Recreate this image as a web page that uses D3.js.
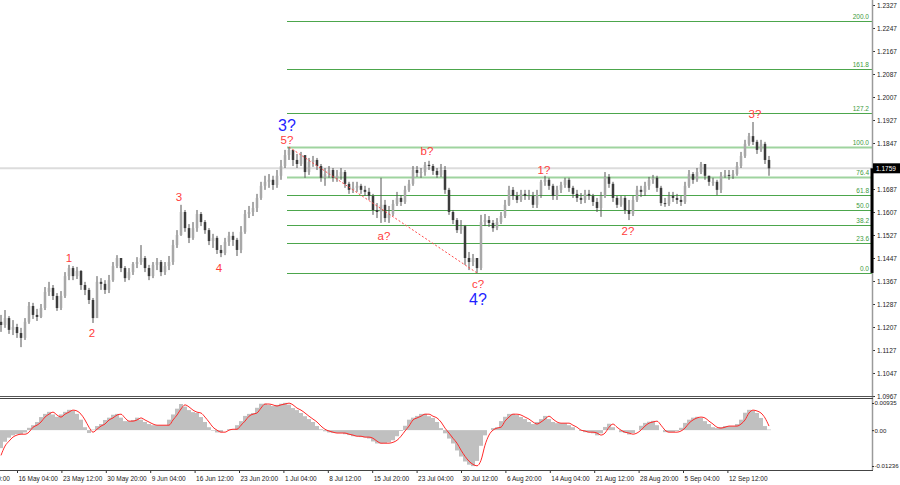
<!DOCTYPE html>
<html><head><meta charset="utf-8">
<script src="https://cdn.jsdelivr.net/npm/d3@7"></script>
<style>body{margin:0;background:#fff}svg{display:block}</style>
</head><body>
<script>
// ---------- DATA ----------
const closes = [1.1214,1.1238,1.1197,1.1207,1.1186,1.1169,1.1225,1.1280,1.1249,1.1242,
1.1273,1.1329,1.1343,1.1315,1.1273,1.1315,1.1384,1.1412,1.1384,1.1402,
1.1353,1.1336,1.1301,1.1238,1.1364,1.1357,1.1336,1.1370,1.1419,1.1447,
1.1412,1.1377,1.1398,1.1426,1.1433,1.1447,1.1412,1.1384,1.1423,1.1433,
1.1398,1.1419,1.1433,1.1492,1.1527,1.1607,1.1551,1.1517,1.1551,1.1600,
1.1572,1.1544,1.1506,1.1517,1.1475,1.1464,1.1503,1.1524,1.1510,1.1475,
1.1538,1.1600,1.1607,1.1621,1.1656,1.1698,1.1712,1.1719,1.1701,1.1733,
1.1767,1.1805,1.1823,1.1788,1.1774,1.1805,1.1746,1.1781,1.1788,1.1767,
1.1726,1.1739,1.1753,1.1726,1.1733,1.1746,1.1705,1.1684,1.1691,1.1698,
1.1684,1.1677,1.1663,1.1614,1.1607,1.1632,1.1586,1.1600,1.1635,1.1656,
1.1642,1.1684,1.1705,1.1753,1.1743,1.1746,1.1771,1.1767,1.1750,1.1736,
1.1753,1.1684,1.1607,1.1579,1.1544,1.1558,1.1447,1.1433,1.1447,1.1412,
1.1572,1.1579,1.1569,1.1551,1.1572,1.1593,1.1632,1.1684,1.1663,1.1649,
1.1670,1.1663,1.1663,1.1632,1.1666,1.1712,1.1719,1.1698,1.1663,1.1684,
1.1701,1.1719,1.1691,1.1670,1.1656,1.1649,1.1670,1.1663,1.1642,1.1621,
1.1663,1.1729,1.1705,1.1656,1.1632,1.1656,1.1614,1.1600,1.1649,1.1684,
1.1677,1.1698,1.1719,1.1726,1.1691,1.1638,1.1635,1.1663,1.1656,1.1649,
1.1642,1.1698,1.1739,1.1719,1.1746,1.1774,1.1733,1.1712,1.1712,1.1684,
1.1733,1.1736,1.1733,1.1739,1.1767,1.1802,1.1844,1.1871,1.1851,1.1823,
1.1844,1.1788,1.1759];
const highs = [1.1249,1.1266,1.1245,1.1231,1.1218,1.1204,1.1238,1.1294,1.1291,1.1270,
1.1287,1.1346,1.1364,1.1353,1.1325,1.1332,1.1398,1.1423,1.1419,1.1416,
1.1405,1.1364,1.1343,1.1308,1.1384,1.1377,1.1370,1.1388,1.1433,1.1457,
1.1447,1.1419,1.1412,1.1433,1.1450,1.1492,1.1454,1.1423,1.1433,1.1447,
1.1440,1.1433,1.1454,1.1510,1.1544,1.1632,1.1614,1.1565,1.1572,1.1614,
1.1607,1.1579,1.1551,1.1531,1.1524,1.1492,1.1517,1.1538,1.1538,1.1517,
1.1558,1.1614,1.1628,1.1642,1.1670,1.1712,1.1733,1.1739,1.1733,1.1753,
1.1788,1.1823,1.1833,1.1816,1.1809,1.1816,1.1802,1.1795,1.1802,1.1795,
1.1774,1.1760,1.1767,1.1760,1.1753,1.1760,1.1753,1.1712,1.1712,1.1712,
1.1705,1.1698,1.1691,1.1670,1.1638,1.1726,1.1649,1.1628,1.1649,1.1677,
1.1666,1.1698,1.1719,1.1767,1.1767,1.1760,1.1781,1.1785,1.1774,1.1760,
1.1774,1.1767,1.1691,1.1614,1.1586,1.1579,1.1562,1.1468,1.1461,1.1447,
1.1597,1.1600,1.1593,1.1579,1.1586,1.1607,1.1649,1.1698,1.1694,1.1677,
1.1684,1.1684,1.1684,1.1677,1.1684,1.1719,1.1733,1.1726,1.1705,1.1698,
1.1712,1.1726,1.1726,1.1698,1.1684,1.1673,1.1684,1.1684,1.1670,1.1656,
1.1677,1.1746,1.1739,1.1712,1.1663,1.1663,1.1663,1.1649,1.1663,1.1698,
1.1698,1.1712,1.1729,1.1736,1.1733,1.1698,1.1656,1.1677,1.1677,1.1670,
1.1663,1.1712,1.1753,1.1746,1.1760,1.1781,1.1774,1.1733,1.1726,1.1719,
1.1746,1.1753,1.1753,1.1753,1.1781,1.1816,1.1858,1.1882,1.1920,1.1858,
1.1858,1.1851,1.1802];
const lows = [1.1190,1.1204,1.1183,1.1179,1.1169,1.1137,1.1162,1.1218,1.1235,1.1228,
1.1238,1.1266,1.1315,1.1301,1.1263,1.1266,1.1308,1.1370,1.1370,1.1374,
1.1336,1.1318,1.1287,1.1221,1.1245,1.1336,1.1322,1.1325,1.1364,1.1412,
1.1398,1.1364,1.1370,1.1388,1.1412,1.1423,1.1398,1.1370,1.1377,1.1405,
1.1384,1.1388,1.1405,1.1423,1.1482,1.1524,1.1538,1.1499,1.1510,1.1538,
1.1558,1.1531,1.1492,1.1482,1.1461,1.1450,1.1457,1.1489,1.1489,1.1454,
1.1464,1.1531,1.1586,1.1593,1.1607,1.1649,1.1684,1.1691,1.1684,1.1691,
1.1719,1.1760,1.1788,1.1767,1.1760,1.1767,1.1726,1.1736,1.1764,1.1753,
1.1712,1.1698,1.1726,1.1712,1.1712,1.1719,1.1691,1.1670,1.1673,1.1677,
1.1670,1.1663,1.1649,1.1597,1.1586,1.1569,1.1572,1.1569,1.1593,1.1628,
1.1628,1.1635,1.1677,1.1698,1.1729,1.1726,1.1733,1.1753,1.1736,1.1726,
1.1729,1.1670,1.1597,1.1565,1.1534,1.1531,1.1423,1.1405,1.1419,1.1395,
1.1405,1.1558,1.1555,1.1538,1.1544,1.1565,1.1586,1.1628,1.1649,1.1638,
1.1642,1.1649,1.1649,1.1621,1.1621,1.1656,1.1698,1.1684,1.1649,1.1649,
1.1673,1.1691,1.1677,1.1656,1.1642,1.1635,1.1638,1.1649,1.1628,1.1607,
1.1590,1.1656,1.1691,1.1642,1.1621,1.1625,1.1600,1.1579,1.1593,1.1642,
1.1659,1.1663,1.1684,1.1705,1.1677,1.1628,1.1625,1.1628,1.1642,1.1635,
1.1628,1.1635,1.1691,1.1705,1.1712,1.1739,1.1719,1.1698,1.1698,1.1666,
1.1673,1.1726,1.1719,1.1722,1.1733,1.1760,1.1795,1.1837,1.1840,1.1809,
1.1816,1.1774,1.1733];
const firstOpen = 1.1225;

const signalLine = [-0.0087,-0.0055,-0.0038,-0.0024,-0.0017,-0.0014,-0.0014,-0.0007,0.0010,0.0017,
0.0028,0.0045,0.0055,0.0062,0.0052,0.0045,0.0055,0.0062,0.0069,0.0066,
0.0055,0.0035,0.0010,-0.0007,0.0003,0.0014,0.0021,0.0035,0.0042,0.0052,
0.0055,0.0042,0.0031,0.0031,0.0035,0.0042,0.0035,0.0028,0.0021,0.0017,
0.0017,0.0017,0.0017,0.0035,0.0052,0.0073,0.0087,0.0080,0.0069,0.0062,
0.0059,0.0045,0.0028,0.0010,0,-0.0007,-0.0007,0,0.0003,0.0003,
0.0017,0.0031,0.0048,0.0055,0.0059,0.0076,0.0090,0.0090,0.0087,0.0083,
0.0087,0.0090,0.0093,0.0087,0.0076,0.0069,0.0059,0.0048,0.0038,0.0028,
0.0014,0.0003,-0.0003,-0.0007,-0.0010,-0.0010,-0.0010,-0.0014,-0.0017,-0.0021,
-0.0021,-0.0024,-0.0024,-0.0028,-0.0038,-0.0045,-0.0045,-0.0045,-0.0042,-0.0035,
-0.0021,-0.0003,0.0014,0.0035,0.0042,0.0048,0.0055,0.0055,0.0048,0.0042,
0.0028,0.0007,-0.0010,-0.0028,-0.0045,-0.0069,-0.0090,-0.0107,-0.0118,-0.0123,
-0.0104,-0.0052,-0.0017,0,0.0007,0.0010,0.0031,0.0045,0.0055,0.0055,
0.0052,0.0045,0.0038,0.0028,0.0021,0.0028,0.0038,0.0048,0.0038,0.0028,
0.0024,0.0024,0.0024,0.0017,0.0010,0,-0.0003,-0.0007,-0.0007,-0.0010,
-0.0017,-0.0010,0.0010,0.0021,0.0010,0,-0.0007,-0.0010,-0.0014,-0.0010,
0,0.0014,0.0024,0.0028,0.0031,0.0017,0,-0.0007,-0.0007,-0.0007,
-0.0003,0.0007,0.0024,0.0035,0.0042,0.0045,0.0042,0.0031,0.0021,0.0010,
0.0007,0.0010,0.0014,0.0014,0.0014,0.0021,0.0035,0.0059,0.0069,0.0066,
0.0059,0.0042,0.0014];
const histogram = [-0.0062,-0.0040,-0.0026,-0.0018,-0.0014,-0.0014,-0.0008,0.0008,0.0017,0.0028,
0.0045,0.0056,0.0063,0.0054,0.0046,0.0054,0.0063,0.0070,0.0067,0.0056,
0.0036,0.0010,-0.0010,0.0002,0.0014,0.0021,0.0035,0.0043,0.0053,0.0056,
0.0043,0.0031,0.0031,0.0035,0.0043,0.0036,0.0028,0.0021,0.0017,0.0017,
0.0017,0.0017,0.0036,0.0054,0.0074,0.0090,0.0081,0.0069,0.0062,0.0059,
0.0045,0.0028,0.0010,-0.0002,-0.0008,-0.0007,0,0.0003,0.0003,0.0017,
0.0031,0.0049,0.0056,0.0059,0.0077,0.0091,0.0091,0.0087,0.0083,0.0087,
0.0091,0.0094,0.0088,0.0076,0.0069,0.0059,0.0048,0.0038,0.0028,0.0014,
0.0003,-0.0004,-0.0008,-0.0010,-0.0010,-0.0010,-0.0014,-0.0017,-0.0021,-0.0021,
-0.0024,-0.0025,-0.0029,-0.0039,-0.0046,-0.0046,-0.0045,-0.0042,-0.0035,-0.0021,
-0.0003,0.0015,0.0036,0.0043,0.0049,0.0056,0.0056,0.0048,0.0042,0.0028,
0.0007,-0.0011,-0.0029,-0.0046,-0.0070,-0.0091,-0.0108,-0.0119,-0.0124,-0.0106,
-0.0054,-0.0018,0,0.0007,0.0010,0.0031,0.0046,0.0056,0.0056,0.0052,
0.0045,0.0038,0.0028,0.0021,0.0028,0.0038,0.0049,0.0038,0.0028,0.0024,
0.0024,0.0024,0.0017,0.0010,0,-0.0003,-0.0007,-0.0008,-0.0011,-0.0018,
-0.0011,0.0011,0.0022,0.0010,0,-0.0007,-0.0010,-0.0015,-0.0010,0,
0.0015,0.0025,0.0029,0.0032,0.0017,0,-0.0007,-0.0007,-0.0007,-0.0003,
0.0008,0.0025,0.0036,0.0043,0.0046,0.0042,0.0031,0.0021,0.0010,0.0007,
0.0010,0.0014,0.0014,0.0014,0.0021,0.0036,0.0060,0.0070,0.0067,0.0059,
0.0042,0.0014,0.0002];

const priceTicks = [1.2327,1.2247,1.2167,1.2087,1.2007,1.1927,1.1847,1.1687,1.1607,1.1527,1.1447,1.1367,1.1287,1.1207,1.1127,1.1047,1.0967];
const oscTicks = [0.00935, 0, -0.01236];
const oscTickLabels = ["0.00935","0.00","-0.01236"];
const dateLabels = ["8 May 20:00","16 May 04:00","23 May 12:00","30 May 20:00","9 Jun 04:00","16 Jun 12:00","23 Jun 20:00","1 Jul 04:00","8 Jul 12:00","15 Jul 20:00","23 Jul 04:00","30 Jul 12:00","6 Aug 20:00","14 Aug 04:00","21 Aug 12:00","28 Aug 20:00","5 Sep 04:00","12 Sep 12:00"];
const dateBars = [-7.1,4,15.1,26.2,37.3,48.4,59.5,70.6,81.7,92.8,103.9,115,126.1,137.2,148.3,159.4,170.5,181.6];

const currentPrice = 1.1759;
const fibLevels = [0, 23.6, 38.2, 50.0, 61.8, 76.4, 100.0, 127.2, 161.8, 200.0];
const fibLow = 1.1395, fibHigh = 1.1833, fibStartBar = 71.5;
const trendFrom = [72, 1.1833], trendTo = [119, 1.1395];

const waveText  = ["1","2","3","4","5?","3?","a?","b?","c?","4?","1?","2?","3?"];
const waveBar   = [17,22.75,44.5,54.5,71.5,71.5,95.75,106.5,119.25,119.25,135.75,156.75,188.5];
const wavePrice = [1.1447,1.1186,1.1659,1.1412,1.1858,1.1907,1.1524,1.1819,1.1357,1.1301,1.1753,1.1541,1.1948];
const waveMajor = [0,0,0,0,0,1,0,0,0,1,0,0,0];

// ---------- CHART ----------
const W = 900, H = 485, axisX = 872;
const FONT = "'Liberation Sans', Arial, sans-serif";
const svg = d3.select("body").append("svg").attr("width", W).attr("height", H)
  .style("font-family", FONT);
svg.append("rect").attr("width", W).attr("height", H).attr("fill", "#fff");

const x = d3.scaleLinear().domain([0, 192]).range([1, 769]);
const y = d3.scaleLinear().domain([1.0967, 1.2327]).range([396, 5]);
const yo = d3.scaleLinear().domain([-0.01236, 0.00935]).range([466, 403]);

svg.append("defs").append("clipPath").attr("id", "mainclip")
  .append("rect").attr("x", 0).attr("y", 0).attr("width", axisX).attr("height", 396);
svg.append("defs").append("clipPath").attr("id", "oscclip")
  .append("rect").attr("x", 0).attr("y", 399).attr("width", axisX).attr("height", 71);

const main = svg.append("g").attr("clip-path", "url(#mainclip)");

// current price line
main.append("line").attr("x1", 0).attr("x2", axisX)
  .attr("y1", y(currentPrice)).attr("y2", y(currentPrice))
  .attr("stroke", "#dcdcdc").attr("stroke-width", 2);

// fib levels
const fibPrice = l => fibLow + (fibHigh - fibLow) * l / 100;
const light = l => (l === 100 || l === 76.4);
main.selectAll(".fib").data(fibLevels).join("line")
  .attr("x1", x(fibStartBar)).attr("x2", axisX)
  .attr("y1", d => Math.round(y(fibPrice(d))) + 0.5).attr("y2", d => Math.round(y(fibPrice(d))) + 0.5)
  .attr("stroke", d => light(d) ? "#9fd49f" : "#4ca64c")
  .attr("stroke-width", d => light(d) ? 2 : 1);
main.selectAll(".fibt").data(fibLevels).join("text")
  .attr("x", axisX - 3).attr("y", d => y(fibPrice(d)) - 2)
  .attr("text-anchor", "end").attr("font-size", 6.5).attr("fill", "#3c9a3c")
  .text(d => d.toFixed(1));

// candles
const bars = closes.map((c, i) => ({i, o: i ? closes[i - 1] : firstOpen, c, h: highs[i], l: lows[i]}));
const cg = main.append("g");
cg.selectAll(".wick").data(bars).join("line")
  .attr("x1", d => x(d.i)).attr("x2", d => x(d.i))
  .attr("y1", d => y(d.h)).attr("y2", d => y(d.l))
  .attr("stroke", "#555").attr("stroke-width", 1);
cg.selectAll(".body").data(bars).join("rect")
  .attr("x", d => x(d.i) - 1.25).attr("width", 2.5)
  .attr("y", d => y(Math.max(d.o, d.c)))
  .attr("height", d => Math.max(1, Math.abs(y(d.o) - y(d.c))))
  .attr("fill", d => d.c >= d.o ? "#a8a8a8" : "#3c3c3c");

// trend line
main.append("line")
  .attr("x1", x(trendFrom[0])).attr("y1", y(trendFrom[1]))
  .attr("x2", x(trendTo[0])).attr("y2", y(trendTo[1]))
  .attr("stroke", "#ff4a4a").attr("stroke-width", 1).attr("stroke-dasharray", "2,2");

// wave labels
const waves = waveText.map((t, k) => ({t, b: waveBar[k], p: wavePrice[k], m: waveMajor[k]}));
main.selectAll(".wave").data(waves).join("text")
  .attr("x", d => x(d.b)).attr("y", d => y(d.p))
  .attr("text-anchor", "middle").attr("dominant-baseline", "central")
  .attr("font-size", d => d.m ? 16 : 11.5)
  .attr("fill", d => d.m ? "#1f1fff" : "#ff3c3c")
  .text(d => d.t);

// price axis
const pa = svg.append("g").attr("transform", `translate(${axisX},0)`)
  .call(d3.axisRight(y).tickValues(priceTicks).tickFormat(d3.format(".4f")).tickSize(3).tickPadding(2));
pa.select(".domain").remove();
pa.selectAll("line").attr("stroke", "#333");
pa.selectAll("text").attr("font-size", 6.5).attr("fill", "#222").attr("font-family", FONT);

// axis vertical line
svg.append("line").attr("x1", axisX + 0.5).attr("x2", axisX + 0.5).attr("y1", 0).attr("y2", 470)
  .attr("stroke", "#9a9a9a").attr("stroke-width", 1.5);
// black range marker
svg.append("line").attr("x1", axisX).attr("x2", axisX)
  .attr("y1", y(currentPrice)).attr("y2", y(fibLow))
  .attr("stroke", "#000").attr("stroke-width", 3);
// current price box
svg.append("rect").attr("x", axisX + 1).attr("y", y(currentPrice) - 5)
  .attr("width", W - axisX - 1).attr("height", 10).attr("fill", "#000");
svg.append("text").attr("x", axisX + 4).attr("y", y(currentPrice))
  .attr("dominant-baseline", "central").attr("font-size", 6.5).attr("fill", "#fff")
  .text(d3.format(".4f")(currentPrice));

// pane separator
svg.append("line").attr("x1", 0).attr("x2", axisX + 1).attr("y1", 396.5).attr("y2", 396.5).attr("stroke", "#555");
svg.append("line").attr("x1", 0).attr("x2", axisX + 1).attr("y1", 398.5).attr("y2", 398.5).attr("stroke", "#444");

// oscillator
const og = svg.append("g").attr("clip-path", "url(#oscclip)");
og.selectAll(".hist").data(histogram).join("rect")
  .attr("x", (d, i) => x(i) - 2).attr("width", 4)
  .attr("y", d => Math.min(yo(0), yo(d)))
  .attr("height", d => Math.abs(yo(d) - yo(0)))
  .attr("fill", "#c0c0c0");
og.append("path").datum(signalLine)
  .attr("d", d3.line().x((d, i) => x(i)).y(d => yo(d)).curve(d3.curveMonotoneX))
  .attr("fill", "none").attr("stroke", "#ff2a2a").attr("stroke-width", 1);

const oa = svg.append("g").attr("transform", `translate(${axisX},0)`)
  .call(d3.axisRight(yo).tickValues(oscTicks).tickFormat((d, i) => oscTickLabels[i]).tickSize(2).tickPadding(0.5));
oa.select(".domain").remove();
oa.selectAll("line").attr("stroke", "#333");
oa.selectAll("text").attr("font-size", 6.1).attr("fill", "#222").attr("font-family", FONT);

// time axis
const xa = svg.append("g").attr("transform", "translate(0,470)")
  .call(d3.axisBottom(x).tickValues(dateBars).tickFormat((d, i) => dateLabels[i]).tickSize(3).tickPadding(3));
xa.select(".domain").remove();
xa.selectAll("line").attr("stroke", "#333");
xa.selectAll("text").attr("font-size", 6.5).attr("fill", "#222").attr("font-family", FONT)
  .attr("text-anchor", "start").attr("dx", 1);
svg.append("line").attr("x1", 0).attr("x2", axisX + 1).attr("y1", 470.5).attr("y2", 470.5).attr("stroke", "#444");
</script>
</body></html>
